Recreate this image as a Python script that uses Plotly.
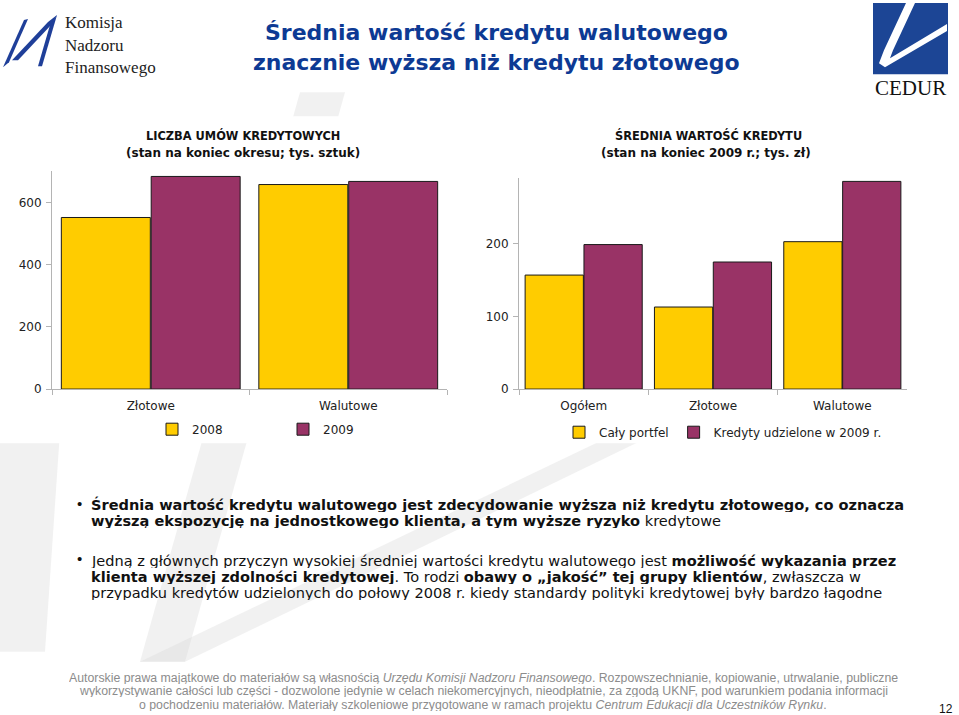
import plotly.graph_objects as go

# ---------------- data ----------------
cat_left = ["Złotowe", "Walutowe"]
count_2008 = [552, 658]
count_2009 = [684, 668]
left_ticks = [0, 200, 400, 600]

cat_right = ["Ogółem", "Złotowe", "Walutowe"]
avg_portfel = [157, 113, 203]
avg_2009 = [199, 175, 286]
right_ticks = [0, 100, 200]

W, H = 959, 715          # design space (reference pixels)
FIG_H = 724              # rendered figure height (compensates vertical squeeze seen in output)
YEL = "#FFCC00"
PUR = "#993366"
AX = "#b4b4b4"
FONT = "DejaVu Sans"


def px(x):
    return x / W


def py(y):
    return 1 - y / H


def path(points):
    s = "M " + " L ".join(f"{px(x):.5f},{py(y):.5f}" for x, y in points) + " Z"
    return s


fig = go.Figure()
fig.add_bar(x=cat_left, y=count_2008, name="2008", xaxis="x", yaxis="y", legend="legend",
            marker=dict(color=YEL, line=dict(color="#1a1a1a", width=1)), hoverinfo="skip")
fig.add_bar(x=cat_left, y=count_2009, name="2009", xaxis="x", yaxis="y", legend="legend",
            marker=dict(color=PUR, line=dict(color="#1a1a1a", width=1)), hoverinfo="skip")
fig.add_bar(x=cat_right, y=avg_portfel, name="Cały portfel", xaxis="x2", yaxis="y2", legend="legend2",
            marker=dict(color=YEL, line=dict(color="#1a1a1a", width=1)), hoverinfo="skip")
fig.add_bar(x=cat_right, y=avg_2009, name="Kredyty udzielone w 2009 r.", xaxis="x2", yaxis="y2",
            legend="legend2", marker=dict(color=PUR, line=dict(color="#1a1a1a", width=1)), hoverinfo="skip")

axis_common = dict(showline=True, linecolor=AX, linewidth=1, ticks="outside", ticklen=5, tickcolor=AX,
                   showgrid=False, zeroline=False, tickfont=dict(family=FONT, size=12, color="#222"),
                   fixedrange=True)

shapes = []
# faint watermark (large "V")
wm = "rgba(215,215,215,0.35)"
shapes.append(dict(type="path", xref="paper", yref="paper", layer="below", line=dict(width=0), fillcolor=wm,
                   path=path([(300, 92), (345, 92), (185, 660), (140, 660)])))
shapes.append(dict(type="path", xref="paper", yref="paper", layer="below", line=dict(width=0), fillcolor=wm,
                   path=path([(140, 660), (185, 660), (640, 440), (600, 440)])))
shapes.append(dict(type="path", xref="paper", yref="paper", layer="below", line=dict(width=0), fillcolor=wm,
                   path=path([(0, 430), (60, 430), (45, 650), (0, 650)])))
# white backing of the two chart blocks
shapes.append(dict(type="rect", xref="paper", yref="paper", layer="below", line=dict(width=0), fillcolor="white",
                   x0=px(0), x1=px(959), y0=py(442), y1=py(116)))

# KNF logo swoosh
KNF = "#1f3f99"
shapes.append(dict(type="path", xref="paper", yref="paper", line=dict(width=0), fillcolor=KNF,
                   path=path([(3, 67), (24, 20), (28, 19), (9, 62)])))
shapes.append(dict(type="path", xref="paper", yref="paper", line=dict(width=0), fillcolor=KNF,
                   path=path([(12, 60), (48, 22), (57, 15), (52, 24), (18, 60)])))
shapes.append(dict(type="path", xref="paper", yref="paper", line=dict(width=0), fillcolor=KNF,
                   path=path([(57, 15), (42, 66), (38, 66), (50, 25)])))
# CEDUR logo
CED = "#1c4595"
shapes.append(dict(type="rect", xref="paper", yref="paper", line=dict(width=0), fillcolor=CED,
                   x0=px(873), x1=px(948), y0=py(74), y1=py(3)))
shapes.append(dict(type="path", xref="paper", yref="paper", line=dict(width=0), fillcolor="white",
                   path=path([(906, 3), (915, 3), (893, 50), (890, 58), (947, 24), (947, 31), (885, 67),
                              (879, 63), (884, 50)])))

ann = []
# main title
for txt, y in [("Średnia wartość kredytu walutowego", 32), ("znacznie wyższa niż kredytu złotowego", 62)]:
    ann.append(dict(text=f"<b>{txt}</b>", x=px(496), y=py(y), xref="paper", yref="paper", showarrow=False,
                    xanchor="center", yanchor="middle", font=dict(family=FONT, size=22, color="#0d3a94")))
# KNF text
for txt, y in [("Komisja", 22), ("Nadzoru", 45), ("Finansowego", 67)]:
    ann.append(dict(text=txt, x=px(63), y=py(y), xref="paper", yref="paper", showarrow=False,
                    xanchor="left", yanchor="middle", font=dict(family="Liberation Serif", size=17, color="#222")))
ann.append(dict(text="CEDUR", x=px(910), y=py(88), xref="paper", yref="paper", showarrow=False,
                xanchor="center", yanchor="middle", font=dict(family="Liberation Serif", size=21, color="#111")))
# chart titles
for txt, x, y, s in [("<b>LICZBA UMÓW KREDYTOWYCH</b>", 243, 135, 11.4),
                     ("<b>(stan na koniec okresu; tys. sztuk)</b>", 243, 153, 12),
                     ("<b>ŚREDNIA WARTOŚĆ KREDYTU</b>", 708, 135, 11.4),
                     ("<b>(stan na koniec 2009 r.; tys. zł)</b>", 706, 153, 12)]:
    ann.append(dict(text=txt, x=px(x), y=py(y), xref="paper", yref="paper", showarrow=False,
                    xanchor="center", yanchor="middle", font=dict(family=FONT, size=s, color="#111")))

# bullets
lines = [
    ("<b>Średnia wartość kredytu walutowego jest zdecydowanie wyższa niż kredytu złotowego, co oznacza</b>", 503),
    ("<b>wyższą ekspozycję na jednostkowego klienta, a tym wyższe ryzyko</b> kredytowe", 519),
    ("Jedną z głównych przyczyn wysokiej średniej wartości kredytu walutowego jest "
     "<b>możliwość wykazania przez</b>", 558),
    ("<b>klienta wyższej zdolności kredytowej</b>. To rodzi <b>obawy o „jakość” tej grupy klientów</b>"
     ", zwłaszcza w", 574),
    ("przypadku kredytów udzielonych do połowy 2008 r. kiedy standardy polityki kredytowej były bardzo łagodne", 590),
]
for txt, y in lines:
    ann.append(dict(text=txt, x=px(90), y=py(y), xref="paper", yref="paper", showarrow=False, height=16,
                    borderpad=0, xanchor="left", yanchor="middle",
                    font=dict(family=FONT, size=14.55, color="#111")))
for y in [503, 558]:
    ann.append(dict(text="•", x=px(79), y=py(y - 1), xref="paper", yref="paper", showarrow=False,
                    xanchor="center", yanchor="middle", font=dict(family="Liberation Sans", size=15, color="#111")))
# footer
foot = [
    "Autorskie prawa majątkowe do materiałów są własnością <i>Urzędu Komisji Nadzoru Finansowego</i>. Rozpowszechnianie, kopiowanie, utrwalanie, publiczne",
    "wykorzystywanie całości lub części - dozwolone jedynie w celach niekomercyjnych, nieodpłatnie, za zgodą UKNF, pod warunkiem podania informacji",
    "o pochodzeniu materiałów. Materiały szkoleniowe przygotowane w ramach projektu <i>Centrum Edukacji dla Uczestników Rynku</i>.",
]
for txt, y in zip(foot, [676, 689, 703]):
    ann.append(dict(text=txt, x=px(483), y=py(y), xref="paper", yref="paper", showarrow=False, height=13,
                    borderpad=0, xanchor="center", yanchor="middle",
                    font=dict(family="Liberation Sans", size=12.3, color="#8c8c8c")))
ann.append(dict(text="12", x=px(946), y=py(707), xref="paper", yref="paper", showarrow=False,
                xanchor="center", yanchor="middle", font=dict(family="Liberation Sans", size=12, color="#111")))

fig.update_layout(
    width=W, height=FIG_H, margin=dict(l=0, r=0, t=0, b=0, pad=0),
    paper_bgcolor="white", plot_bgcolor="rgba(0,0,0,0)",
    barmode="group", bargap=0.09, bargroupgap=0.01,
    xaxis=dict(domain=[px(52), px(447)], tickson="boundaries", anchor="y", ticklabelstandoff=6, **axis_common),
    yaxis=dict(domain=[py(388), py(171)], range=[0, 700], tickvals=left_ticks, anchor="x",
               ticklabelstandoff=2, **axis_common),
    xaxis2=dict(domain=[px(519), px(907)], tickson="boundaries", anchor="y2", ticklabelstandoff=6, **axis_common),
    yaxis2=dict(domain=[py(388), py(178)], range=[0, 290], tickvals=right_ticks, anchor="x2",
                ticklabelstandoff=2, **axis_common),
    legend=dict(orientation="h", x=px(152), y=py(428), xanchor="left", yanchor="middle",
                entrywidth=86, entrywidthmode="pixels", itemwidth=30, bgcolor="rgba(0,0,0,0)",
                font=dict(family=FONT, size=12, color="#222"), itemclick=False, itemdoubleclick=False),
    legend2=dict(orientation="h", x=px(559), y=py(431), xanchor="left", yanchor="middle",
                 itemwidth=30, bgcolor="rgba(0,0,0,0)",
                 font=dict(family=FONT, size=12, color="#222"), itemclick=False, itemdoubleclick=False),
    shapes=shapes, annotations=ann, showlegend=True,
)

post = ("document.documentElement.style.margin='0';document.body.style.margin='0';"
        "document.documentElement.style.overflow='hidden';document.body.style.overflow='hidden';")
fig.write_html("out.html", post_script=post, config={"displayModeBar": False})
